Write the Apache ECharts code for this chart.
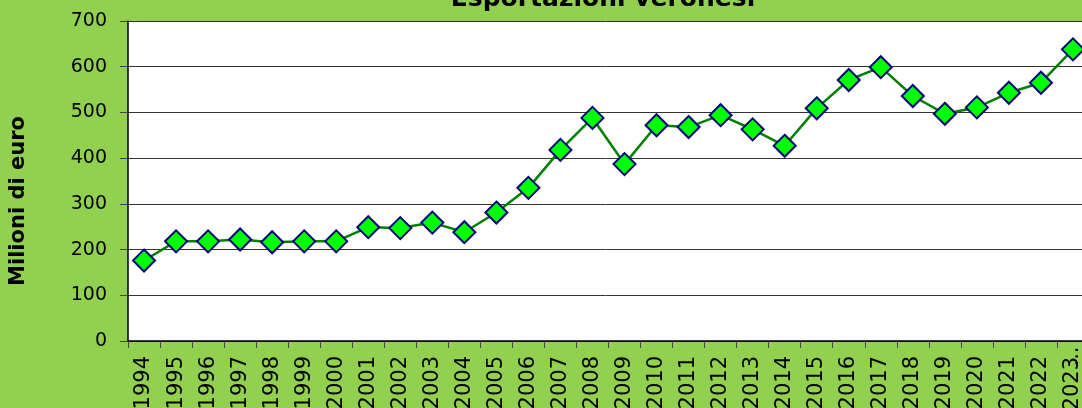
<!DOCTYPE html>
<html>
<head>
<meta charset="utf-8">
<script src="https://cdn.jsdelivr.net/npm/echarts@6/dist/echarts.min.js"></script>
<style>
  html, body { margin: 0; padding: 0; background: #92d050; }
  #chart { width: 1082px; height: 408px; }
</style>
</head>
<body>
<div id="chart"></div>
<script>
// anni e valori (milioni di euro)
var anni = ['1994', '1995', '1996', '1997', '1998', '1999', '2000', '2001', '2002', '2003',
  '2004', '2005', '2006', '2007', '2008', '2009', '2010', '2011', '2012', '2013',
  '2014', '2015', '2016', '2017', '2018', '2019', '2020', '2021', '2022', '2023'];
var esportazioni = [176, 218, 218, 222, 216, 218, 218, 249, 247, 259,
  238, 281, 335, 418, 488, 387, 472, 468, 494, 463,
  427, 509, 571, 599, 536, 497, 511, 543, 565, 638];

var myChart = echarts.init(document.getElementById('chart'));
myChart.setOption({
  backgroundColor: '#92d050',
  animation: false,
  title: {
    text: 'Esportazioni veronesi',
    left: 598,
    textAlign: 'center',
    top: -18,
    textStyle: { fontFamily: 'DejaVu Sans', fontWeight: 'bold', fontSize: 25, color: '#000' }
  },
  grid: {
    left: 128, top: 21, width: 961, height: 320,
    outerBoundsMode: 'none', containLabel: false,
    backgroundColor: '#fff', show: true, borderWidth: 0
  },
  xAxis: {
    type: 'category',
    data: anni,
    boundaryGap: true,
    axisLine: { lineStyle: { color: '#000', width: 1.5 } },
    axisTick: { show: true, length: 7, lineStyle: { color: '#444' } },
    axisLabel: {
      rotate: 90, color: '#000', fontFamily: 'DejaVu Sans', fontSize: 21, margin: 15,
      formatter: function (v) { return v === '2023' ? '{n|2023}{e|...}' : v; },
      rich: {
        n: { fontFamily: 'DejaVu Sans', fontSize: 21, color: '#000' },
        e: { fontFamily: 'DejaVu Sans', fontSize: 21, color: '#000', width: 1, align: 'left' }
      }
    }
  },
  yAxis: {
    type: 'value',
    min: 0, max: 700, interval: 100,
    name: 'Milioni di euro',
    nameLocation: 'middle',
    nameGap: 99,
    nameTextStyle: {
      fontFamily: 'DejaVu Sans', fontWeight: 'bold', fontSize: 21, color: '#000',
      padding: [0, 40, 0, 0]
    },
    axisLine: { show: true, lineStyle: { color: '#000', width: 1.5 } },
    axisTick: { show: true, length: 8, lineStyle: { color: '#444' } },
    axisLabel: { color: '#000', fontFamily: 'DejaVu Sans', fontSize: 19, margin: 21 },
    splitLine: { lineStyle: { color: '#333', width: 1 } }
  },
  series: [{
    type: 'line',
    data: esportazioni,
    symbol: 'diamond',
    symbolSize: 22,
    lineStyle: { color: '#008000', width: 2.5 },
    itemStyle: { color: '#00ff00', borderColor: '#000080', borderWidth: 2 }
  }]
});
</script>
</body>
</html>
